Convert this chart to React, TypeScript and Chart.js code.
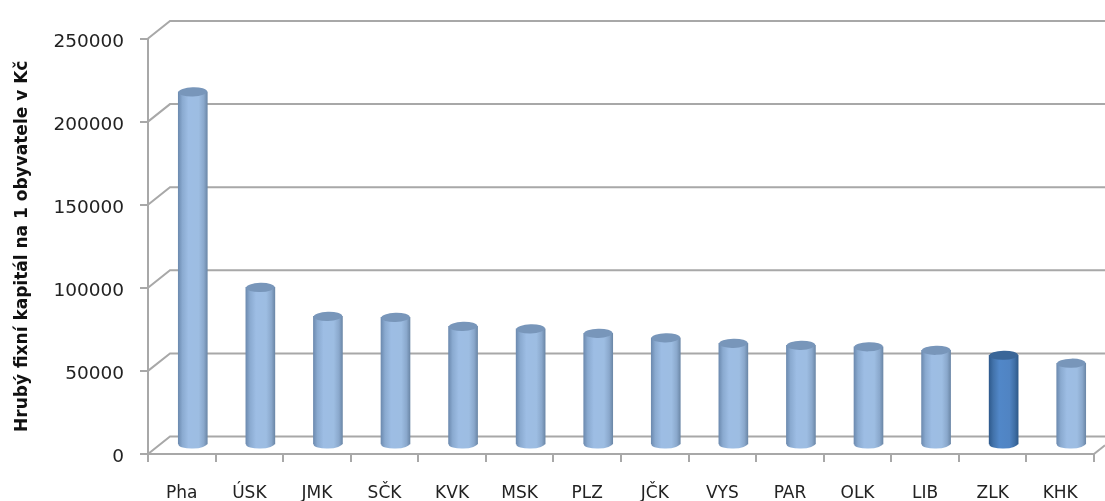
import React, { useEffect, useRef } from "react";
import { Chart, registerables } from "chart.js";

Chart.register(...registerables);

const categories = ["Pha", "ÚSK", "JMK", "SČK", "KVK", "MSK", "PLZ", "JČK", "VYS", "PAR", "OLK", "LIB", "ZLK", "KHK"];
const values = [212500, 94800, 77400, 76800, 71400, 69900, 67200, 64500, 61200, 60000, 59100, 57000, 54000, 49200];
const highlighted = "ZLK";
const axisTitle = "Hrubý fixní kapitál na 1 obyvatele v Kč";

const DEPTH_X = 22;
const DEPTH_Y = 17.5;
const BAR_SHIFT_X = 11;
const BAR_SHIFT_Y = -9;
const GRID = "#a8a8a8";
const FONT = "'DejaVu Sans'";

const isHi = (i: number) => categories[i] === highlighted;

const cylinder = {
  id: "cylinder",
  beforeDatasetsDraw(chart: any) {
    const { ctx, scales } = chart;
    const y = scales.y;
    const x = scales.x;
    const W = chart.width;
    ctx.save();
    ctx.strokeStyle = GRID;
    ctx.lineWidth = 2;
    y.ticks.forEach((t: any) => {
      const py = y.getPixelForValue(t.value);
      ctx.beginPath();
      ctx.moveTo(x.left, py);
      ctx.lineTo(x.left + DEPTH_X, py - DEPTH_Y);
      ctx.lineTo(W, py - DEPTH_Y);
      ctx.stroke();
    });
    ctx.beginPath();
    ctx.moveTo(x.right, y.bottom);
    ctx.lineTo(x.right + DEPTH_X * 0.5, y.bottom - DEPTH_Y * 0.5);
    ctx.stroke();
    ctx.restore();
  },
  beforeDatasetDraw(chart: any) {
    chart.ctx.save();
    chart.ctx.translate(BAR_SHIFT_X, BAR_SHIFT_Y);
  },
  afterDatasetDraw(chart: any, args: any) {
    const { ctx } = chart;
    args.meta.data.forEach((bar: any, i: number) => {
      const rx = bar.width / 2 - 0.2;
      const ry = 4.6;
      const tilt = -0.03;
      ctx.fillStyle = barGradient(ctx, bar.x, bar.width, i);
      ctx.beginPath();
      ctx.ellipse(bar.x, bar.base, rx, ry, tilt, 0, Math.PI * 2);
      ctx.fill();
      ctx.fillStyle = isHi(i) ? "#3a6698" : "#7896ba";
      ctx.beginPath();
      ctx.ellipse(bar.x, bar.y, rx, ry, tilt, 0, Math.PI * 2);
      ctx.fill();
    });
    ctx.restore();
  },
};

const gradientPositions = [0, 0.14, 0.35, 0.7, 0.88, 1];

function barGradient(ctx: CanvasRenderingContext2D, cx: number, w: number, i: number) {
  const g = ctx.createLinearGradient(cx - w / 2, 0, cx + w / 2, 0);
  const stops = isHi(i)
    ? ["#2f5b8e", "#4272aa", "#5187c8", "#5084c3", "#3f6fa6", "#2f5a8a"]
    : ["#6d8bb0", "#8aaad0", "#9dbde4", "#9dbde2", "#8aa8cc", "#6c88a8"];
  stops.forEach((c, k) => g.addColorStop(gradientPositions[k], c));
  return g;
}

export default function App() {
  const ref = useRef<HTMLCanvasElement>(null);
  useEffect(() => {
    const chart = new Chart(ref.current!, {
      type: "bar",
      data: {
        labels: categories,
        datasets: [
          {
            data: values,
            barThickness: 29,
            borderWidth: 0,
            backgroundColor: (c: any) => {
              const x = c.chart.scales.x;
              if (!x || c.dataIndex === undefined) return "#9bbbe0";
              const cx = x.getPixelForValue(c.dataIndex);
              if (!Number.isFinite(cx)) return "#9bbbe0";
              return barGradient(c.chart.ctx, cx, 29, c.dataIndex);
            },
          },
        ],
      },
      options: {
        animation: false,
        responsive: false,
        layout: { padding: { left: 0, top: 38.5, right: 11, bottom: 0 } },
        plugins: { legend: { display: false }, tooltip: { enabled: false } },
        scales: {
          x: {
            afterFit: (s: any) => { s.height = 47; },
            grid: { offset: true, drawOnChartArea: false, color: GRID, lineWidth: 2, tickLength: 8 },
            border: { display: true, color: GRID, width: 2 },
            ticks: { color: "#222", font: { family: FONT, size: 17 }, padding: 21, maxRotation: 0, autoSkip: false },
          },
          y: {
            min: 0,
            max: 250000,
            afterFit: (s: any) => { s.width = 148; },
            grid: { drawOnChartArea: false, color: GRID, lineWidth: 2, tickLength: 8 },
            border: { display: true, color: GRID, width: 2 },
            ticks: {
              stepSize: 50000,
              color: "#222",
              font: { family: FONT, size: 18.5, lineHeight: "7px" },
              padding: 16,
              callback: (v: any) => ["", String(v)],
            },
            title: {
              display: true,
              text: axisTitle,
              color: "#111",
              font: { family: FONT, size: 17, weight: "bold" },
              padding: { top: 12, bottom: 0 },
            },
          },
        },
      },
      plugins: [cylinder],
    } as any);
    return () => chart.destroy();
  }, []);
  return (
    <div style={{ position: "absolute", left: 0, top: 0 }}>
      <canvas ref={ref} width={1105} height={501} style={{ display: "block", filter: "blur(0.55px)" }} />
    </div>
  );
}
